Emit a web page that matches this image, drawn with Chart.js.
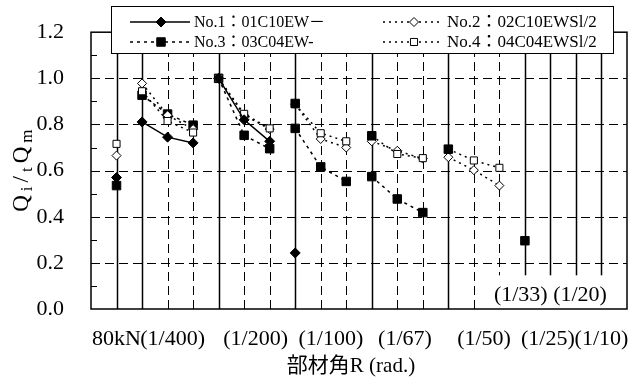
<!DOCTYPE html>
<html>
<head>
<meta charset="utf-8">
<script src="https://cdn.jsdelivr.net/npm/chart.js@4/dist/chart.umd.min.js"></script>
<style>
  html, body { margin: 0; padding: 0; background: #fff; }
  #wrap { width: 640px; height: 381px; }
</style>
</head>
<body>
<div id="wrap"><canvas id="chart"></canvas></div>
<script>
// loading steps on the x axis: 80kN, then 3 cycles for each drift level
const steps = [1, 2, 3, 4, 5, 6, 7, 8, 9, 10, 11, 12, 13, 14, 15, 16, 17];
const stepGroup = [0, 1, 1, 1, 2, 2, 2, 3, 3, 3, 4, 4, 4, 5, 5, 5, 6];

const seriesNames = ['No.1：01C10EW－', 'No.2：02C10EWSl/2', 'No.3：03C04EW-', 'No.4：04C04EWSl/2'];

const no1 = [0.570, 0.811, 0.745, 0.720, 1.000, 0.820, 0.727, 0.243, null, null, null, null, null, null, null, null, null];
const no2 = [0.665, 0.978, 0.840, 0.780, 1.000, 0.840, 0.780, 0.888, 0.737, 0.700, 0.727, 0.686, 0.652, 0.658, 0.602, 0.535, null];
const no3 = [0.535, 0.927, 0.845, 0.797, 1.000, 0.753, 0.695, 0.783, 0.616, 0.553, 0.574, 0.477, 0.418, null, null, null, 0.296];
const no3Peak = [null, null, null, null, null, null, null, 0.891, null, null, 0.751, null, null, 0.693, null, null, null];
const no4 = [0.716, 0.944, 0.815, 0.765, 1.000, 0.846, 0.783, 0.888, 0.762, 0.727, 0.751, 0.672, 0.654, 0.693, 0.644, 0.612, null];

// axis text
const xLabels = ['80kN', '(1/400)', '(1/200)', '(1/100)', '(1/67)', '(1/50)', '(1/25)', '(1/10)'];
const xLabelAt = [1, 3.2, 6.45, 9.4, 12.3, 15.4, 17.9, 20.0];
const xTitle = '部材角R (rad.)';
const innerLabel = '(1/33) (1/20)';
const innerLabelAt = 18;
const stepLines = [1, 2, 3, 4, 5, 6, 7, 8, 9, 10, 11, 12, 13, 14, 15, 16, 17, 18, 19, 20];
const solidLines = [1, 2, 5, 8, 11, 14, 17, 18, 19, 20];

const SERIF = "'Liberation Serif', 'Noto Sans CJK JP', serif";

function pts(values) {
    return steps.map((s, i) => ({ x: s, y: values[i] }));
}

// no line between different drift levels
const breakGroups = {
    borderColor: ctx => stepGroup[ctx.p0DataIndex] !== stepGroup[ctx.p1DataIndex] ? 'rgba(0,0,0,0)' : undefined
};

function drawMarker(ctx, style, r, fill, x, y) {
    ctx.beginPath();
    if (style === 'rectRot') {
        ctx.moveTo(x, y - r); ctx.lineTo(x + r, y); ctx.lineTo(x, y + r); ctx.lineTo(x - r, y);
    } else {
        const h = r * Math.SQRT1_2;
        ctx.rect(x - h, y - h, 2 * h, 2 * h);
    }
    ctx.closePath();
    ctx.setLineDash([]);
    ctx.fillStyle = fill;
    ctx.fill();
    ctx.lineWidth = 1;
    ctx.strokeStyle = '#000';
    ctx.stroke();
}

const frameLines = {
    id: 'frameLines',
    beforeDatasetsDraw(chart) {
        const { ctx, chartArea: a, scales: { x, y } } = chart;
        ctx.save();
        ctx.strokeStyle = '#000';
        // dashed horizontal grid
        ctx.lineWidth = 1;
        ctx.setLineDash([9, 5]);
        y.ticks.forEach(t => {
            if (t.value <= 0.01 || t.value >= 1.19) return;
            const py = Math.round(y.getPixelForValue(t.value)) + 0.5;
            ctx.beginPath();
            ctx.moveTo(a.left, py);
            ctx.lineTo(a.right, py);
            ctx.stroke();
        });
        stepLines.forEach(v => {
            const px = Math.round(x.getPixelForValue(v)) + 0.5;
            ctx.lineWidth = solidLines.includes(v) ? 1.5 : 1;
            ctx.setLineDash(solidLines.includes(v) ? [] : [9, 5]);
            ctx.beginPath();
            ctx.moveTo(px, a.bottom);
            ctx.lineTo(px, a.top);
            ctx.stroke();
        });
        // small inner ticks on the left axis
        ctx.setLineDash([]);
        ctx.lineWidth = 1;
        for (let k = 1; k < 12; k++) {
            const py = Math.round(y.getPixelForValue(k / 10)) + 0.5;
            ctx.beginPath();
            ctx.moveTo(a.left, py);
            ctx.lineTo(a.left + 6, py);
            ctx.stroke();
        }
        // boxed labels sitting on the axis
        ctx.font = '22px ' + SERIF;
        const w = ctx.measureText(innerLabel).width + 12;
        const cx = x.getPixelForValue(innerLabelAt);
        const top = y.getPixelForValue(0.146);
        ctx.fillStyle = '#fff';
        ctx.fillRect(cx - w / 2, top, w, a.bottom - top);
        ctx.fillStyle = '#000';
        ctx.textAlign = 'center';
        ctx.textBaseline = 'middle';
        ctx.fillText(innerLabel, cx, y.getPixelForValue(0.058));
        ctx.restore();
    },
    afterDatasetsDraw(chart) {
        const { ctx, chartArea: a } = chart;
        ctx.save();
        ctx.strokeStyle = '#000';
        ctx.lineWidth = 1.5;
        ctx.strokeRect(a.left, a.top, a.right - a.left, a.bottom - a.top);
        ctx.restore();
    }
};

const boxLegend = {
    id: 'boxLegend',
    afterDraw(chart) {
        const { ctx, chartArea: a } = chart;
        const x0 = a.left + 20, x1 = a.right - 14, y0 = 6, y1 = 53;
        ctx.save();
        ctx.fillStyle = '#fff';
        ctx.fillRect(x0, y0, x1 - x0, y1 - y0);
        ctx.strokeStyle = '#000';
        ctx.lineWidth = 1;
        ctx.strokeRect(x0 + 0.5, y0 + 0.5, x1 - x0, y1 - y0);
        const cols = [x0 + 19, x0 + 272];
        const rows = [22, 42];
        seriesNames.forEach((name, k) => {
            const ds = chart.data.datasets.find(d => d.label === name);
            const lx = cols[k % 2], ly = rows[Math.floor(k / 2)];
            ctx.strokeStyle = '#000';
            ctx.lineWidth = ds.borderWidth;
            ctx.setLineDash(ds.borderDash || []);
            ctx.beginPath();
            ctx.moveTo(lx, ly);
            ctx.lineTo(lx + 60, ly);
            ctx.stroke();
            drawMarker(ctx, ds.pointStyle, ds.pointRadius, ds.pointBackgroundColor, lx + 31, ly);
            ctx.fillStyle = '#000';
            ctx.font = (k % 2 ? '17px ' : '16px ') + SERIF;
            ctx.textAlign = 'left';
            ctx.textBaseline = 'middle';
            ctx.fillText(name, lx + 64, ly + 1);
        });
        ctx.restore();
    }
};

const axisTitles = {
    id: 'axisTitles',
    afterDraw(chart) {
        const { ctx, chartArea: a } = chart;
        ctx.save();
        ctx.fillStyle = '#000';
        // x title
        ctx.font = '21px ' + SERIF;
        ctx.textAlign = 'center';
        ctx.textBaseline = 'middle';
        ctx.fillText(xTitle, (a.left + a.right) / 2 - 8, 366);
        // y title with subscripts, spread out as in the original
        const parts = [['Q', 0], ['i', 1], ['/', 0], ['t', 1], ['Q', 0], ['m', 1]];
        const big = '23px ' + SERIF, small = '17px ' + SERIF;
        const gap = 4;
        ctx.textAlign = 'left';
        ctx.textBaseline = 'alphabetic';
        let total = gap * (parts.length - 1);
        parts.forEach(p => { ctx.font = p[1] ? small : big; total += ctx.measureText(p[0]).width; });
        ctx.translate(28, (a.top + a.bottom) / 2);
        ctx.rotate(-Math.PI / 2);
        let cx = -total / 2;
        parts.forEach(p => {
            ctx.font = p[1] ? small : big;
            ctx.fillText(p[0], cx, p[1] ? 4 : 0);
            cx += ctx.measureText(p[0]).width + gap;
        });
        ctx.restore();
    }
};

new Chart(document.getElementById('chart'), {
    type: 'line',
    data: {
        datasets: [
            {
                label: seriesNames[0], data: pts(no1),
                borderColor: '#000', borderWidth: 1.5,
                pointStyle: 'rectRot', pointRadius: 5, pointBackgroundColor: '#000',
                pointBorderColor: '#000', pointBorderWidth: 1, segment: breakGroups
            },
            {
                label: '', data: pts(no3Peak), showLine: false,
                pointStyle: 'rect', pointRadius: 6, pointBackgroundColor: '#000',
                pointBorderColor: '#000', pointBorderWidth: 1
            },
            {
                label: seriesNames[3], data: pts(no4),
                borderColor: '#000', borderWidth: 1.5, borderDash: [2, 4],
                pointStyle: 'rect', pointRadius: 5, pointBackgroundColor: '#fff',
                pointBorderColor: '#000', pointBorderWidth: 1, segment: breakGroups
            },
            {
                label: seriesNames[1], data: pts(no2),
                borderColor: '#000', borderWidth: 1.5, borderDash: [2, 4],
                pointStyle: 'rectRot', pointRadius: 4.5, pointBackgroundColor: '#fff',
                pointBorderColor: '#000', pointBorderWidth: 1, segment: breakGroups
            },
            {
                label: seriesNames[2], data: pts(no3),
                borderColor: '#000', borderWidth: 1.5, borderDash: [3, 4],
                pointStyle: 'rect', pointRadius: 6, pointBackgroundColor: '#000',
                pointBorderColor: '#000', pointBorderWidth: 1, segment: breakGroups
            }
        ]
    },
    options: {
        responsive: true,
        maintainAspectRatio: false,
        animation: false,
        layout: { padding: { left: 0, right: 13, top: 22, bottom: 0 } },
        plugins: { legend: { display: false }, tooltip: { enabled: false } },
        scales: {
            x: {
                type: 'linear', min: 0, max: 21,
                grid: { display: false },
                border: { display: false },
                afterBuildTicks: s => { s.ticks = xLabelAt.map(v => ({ value: v })); },
                afterFit: s => { s.height = 72; },
                ticks: {
                    autoSkip: false, maxRotation: 0, padding: 9, color: '#000',
                    font: { family: SERIF, size: 22 },
                    callback: (v, i) => xLabels[i]
                }
            },
            y: {
                min: 0, max: 1.2,
                afterFit: s => { s.width = 91; },
                grid: { display: false },
                border: { display: false },
                ticks: {
                    stepSize: 0.2, padding: 19, color: '#000',
                    font: { family: SERIF, size: 22 },
                    callback: v => v.toFixed(1)
                }
            }
        }
    },
    plugins: [frameLines, boxLegend, axisTitles]
});
</script>
</body>
</html>
